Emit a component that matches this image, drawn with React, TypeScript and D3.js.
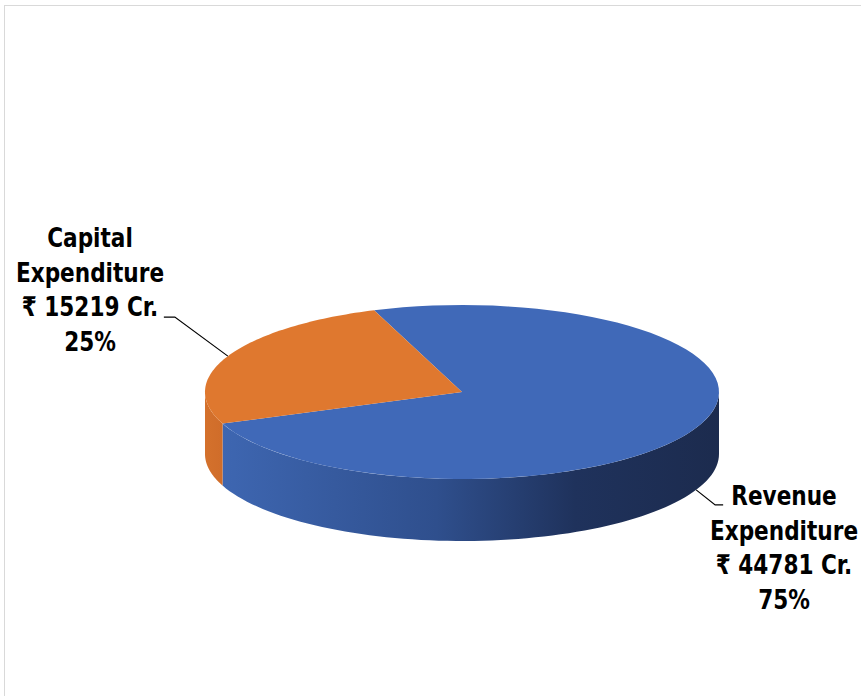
import React from "react";
import * as d3 from "d3";

const categories = ["Revenue Expenditure", "Capital Expenditure"];
const values = [44781, 15219];
const labelLines = [
  ["Revenue", "Expenditure"],
  ["Capital", "Expenditure"],
];
const percentLabels = ["75%", "25%"];

const W = 861;
const H = 696;
const cx = 462;
const cy = 392;
const rx = 257;
const ry = 87;
const depth = 62;
const startDeg = -20;

const topColors = ["#4069b8", "#df782f"];

const toRad = (d: number) => (d * Math.PI) / 180;
const pt = (a: number, dy = 0): [number, number] => [
  cx + rx * Math.sin(a),
  cy - ry * Math.cos(a) + dy,
];

function topPath(a0: number, a1: number) {
  const n = 80;
  const p = d3.path();
  p.moveTo(cx, cy);
  for (let i = 0; i <= n; i++) {
    const a = a0 + ((a1 - a0) * i) / n;
    const [x, y] = pt(a);
    p.lineTo(x, y);
  }
  p.closePath();
  return p.toString();
}

function wallPath(a0: number, a1: number) {
  const lo = Math.max(a0, Math.PI / 2);
  const hi = Math.min(a1, (3 * Math.PI) / 2);
  if (hi <= lo) return null;
  const n = 80;
  const p = d3.path();
  for (let i = 0; i <= n; i++) {
    const a = lo + ((hi - lo) * i) / n;
    const [x, y] = pt(a);
    if (i === 0) p.moveTo(x, y);
    else p.lineTo(x, y);
  }
  for (let i = n; i >= 0; i--) {
    const a = lo + ((hi - lo) * i) / n;
    const [x, y] = pt(a, depth);
    p.lineTo(x, y);
  }
  p.closePath();
  return p.toString();
}

export default function App() {
  const pie = d3
    .pie<number>()
    .sort(null)
    .startAngle(toRad(startDeg))
    .endAngle(toRad(startDeg) + 2 * Math.PI);
  const arcs = pie(values);
  const fmt = d3.format("d");
  const font = "'DejaVu Sans Condensed', 'DejaVu Sans', sans-serif";

  const blueMid = (arcs[0].startAngle + arcs[0].endAngle) / 2;
  const orangeMid = (arcs[1].startAngle + arcs[1].endAngle) / 2;
  const bA = pt(blueMid, depth);
  const oA = pt(orangeMid);

  const labelBlock = (lines: string[], x: number, y0: number, key: string) =>
    lines.map((t, j) => (
      <text
        key={key + j}
        transform={`translate(${x},${y0 + j * 34.7}) scale(0.89,1)`}
      >
        {t}
      </text>
    ));

  return (
    <svg
      width={W}
      height={H}
      style={{ position: "absolute", left: 0, top: 0, background: "#fff" }}
    >
      <defs>
        <linearGradient id="blueSide" gradientUnits="userSpaceOnUse" x1={cx - rx} x2={cx + rx} y1={0} y2={0}>
          <stop offset="0" stopColor="#3f68b4" />
          <stop offset="0.45" stopColor="#2f4f8d" />
          <stop offset="0.72" stopColor="#1f325c" />
          <stop offset="1" stopColor="#1c2b4e" />
        </linearGradient>
        <linearGradient id="orangeSide" gradientUnits="userSpaceOnUse" x1={cx - rx} x2={cx - rx + 20} y1={0} y2={0}>
          <stop offset="0" stopColor="#d4712c" />
          <stop offset="1" stopColor="#cf6c2a" />
        </linearGradient>
      </defs>
      <rect x={4.5} y={5.5} width={W} height={H} fill="none" stroke="#d9d9d9" strokeWidth={1} />
      {arcs.map((a, i) => {
        const d = wallPath(a.startAngle, a.endAngle);
        return d ? (
          <path key={"w" + i} d={d} fill={i === 0 ? "url(#blueSide)" : "url(#orangeSide)"} />
        ) : null;
      })}
      {arcs.map((a, i) => (
        <path key={"t" + i} d={topPath(a.startAngle, a.endAngle)} fill={topColors[i]} />
      ))}
      <polyline
        points={`${oA[0]},${oA[1]} ${oA[0] - 53},${oA[1] - 39} ${oA[0] - 64},${oA[1] - 39}`}
        fill="none"
        stroke="#000"
        strokeWidth={1.2}
      />
      <polyline
        points={`${bA[0]},${bA[1]} ${bA[0] + 19},${bA[1] + 15} ${bA[0] + 27},${bA[1] + 15}`}
        fill="none"
        stroke="#000"
        strokeWidth={1.2}
      />
      <g fontFamily={font} fontWeight="bold" fontSize={27} textAnchor="middle" fill="#000">
        {labelBlock([...labelLines[1], `₹ ${fmt(values[1])} Cr.`, percentLabels[1]], 90, 247, "c")}
        {labelBlock([...labelLines[0], `₹ ${fmt(values[0])} Cr.`, percentLabels[0]], 784, 505, "r")}
      </g>
    </svg>
  );
}
